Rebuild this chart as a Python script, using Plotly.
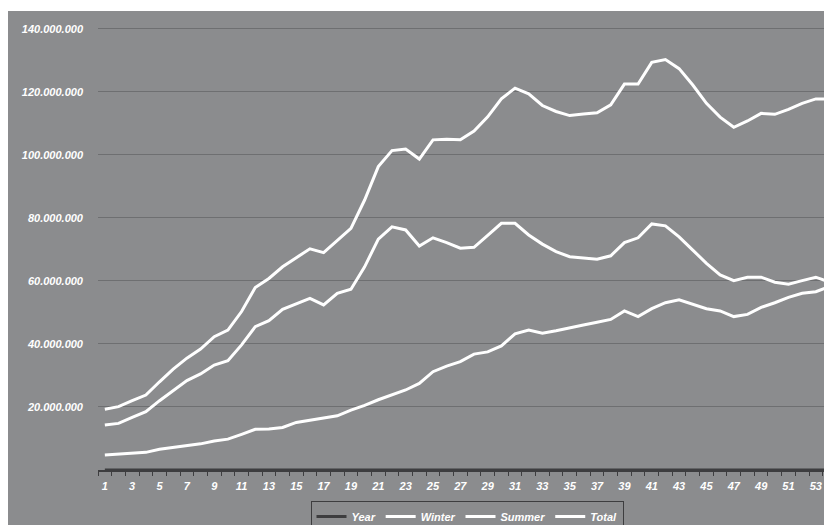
import plotly.graph_objects as go

years = list(range(1, 55))

winter = [14.3, 14.8, 16.7, 18.5, 22.0, 25.2, 28.4, 30.5, 33.3, 34.7,
          39.7, 45.5, 47.4, 51.0, 52.7, 54.5, 52.4, 56.1, 57.4, 64.5,
          73.3, 77.2, 76.2, 71.1, 73.7, 72.2, 70.4, 70.7, 74.5, 78.3,
          78.3, 74.6, 71.7, 69.3, 67.7, 67.2, 66.9, 68.0, 72.2, 73.7,
          78.1, 77.5, 74.0, 69.8, 65.6, 61.9, 60.1, 61.2, 61.2, 59.6,
          59.0, 60.1, 61.2, 59.6]
summer = [4.8, 5.1, 5.3, 5.6, 6.6, 7.2, 7.7, 8.3, 9.2, 9.8,
          11.3, 12.9, 13.0, 13.5, 15.1, 15.8, 16.5, 17.2, 19.0, 20.5,
          22.3, 23.9, 25.4, 27.5, 31.2, 33.0, 34.4, 36.8, 37.5, 39.4,
          43.2, 44.4, 43.4, 44.2, 45.2, 46.0, 46.9, 47.8, 50.5, 48.7,
          51.2, 53.1, 54.0, 52.7, 51.2, 50.5, 48.7, 49.4, 51.6, 53.1,
          54.8, 56.1, 56.6, 58.2]
total = [19.3, 20.1, 22.0, 23.8, 28.0, 32.0, 35.5, 38.4, 42.3, 44.4,
         50.3, 57.9, 60.8, 64.5, 67.4, 70.2, 69.0, 73.0, 76.7, 85.7,
         96.3, 101.4, 101.9, 98.7, 104.8, 105.0, 104.8, 107.6, 112.1, 117.8,
         121.2, 119.4, 115.7, 113.8, 112.5, 113.0, 113.4, 115.9, 122.5, 122.5,
         129.4, 130.3, 127.4, 122.2, 116.4, 112.0, 108.8, 110.8, 113.2, 112.9,
         114.5, 116.4, 117.8, 117.8]

scale = 1_000_000
y_ticks = [20, 40, 60, 80, 100, 120, 140]
x_ticks = list(range(1, 54, 2))

GRAY = "#8b8c8e"
GRID = "#6e6f71"
DARK = "#3d3d3f"
FONT = dict(family="Liberation Sans, Arial, sans-serif", size=11,
            color="white", weight="bold", style="italic")

fig = go.Figure()
fig.add_trace(go.Scatter(x=years, y=years, name="Year", mode="lines",
                         line=dict(color=DARK, width=3)))
fig.add_trace(go.Scatter(x=years, y=[v * scale for v in winter], name="Winter",
                         mode="lines", line=dict(color="white", width=3)))
fig.add_trace(go.Scatter(x=years, y=[v * scale for v in summer], name="Summer",
                         mode="lines", line=dict(color="white", width=3)))
fig.add_trace(go.Scatter(x=years, y=[v * scale for v in total], name="Total",
                         mode="lines", line=dict(color="white", width=3)))

W, H = 832, 525
L, R, T, B = 90, 3, 3, 63
pw, ph = W - L - R, H - T - B

fig.update_layout(
    width=W, height=H,
    margin=dict(l=L, r=R, t=T, b=B, pad=0, autoexpand=False),
    paper_bgcolor=GRAY,
    plot_bgcolor=GRAY,
    separators=",.",
    font=FONT,
    showlegend=True,
    legend=dict(orientation="h", xanchor="center", x=(459 - L) / pw,
                yanchor="top", y=-(493 - 462) / ph,
                bgcolor=GRAY, bordercolor=DARK, borderwidth=1,
                font=FONT, itemwidth=30, tracegroupgap=0),
    xaxis=dict(range=[0.5, 0.5 + pw / 13.673], tickmode="array",
               tickvals=x_ticks, ticktext=[str(v) for v in x_ticks],
               ticks="", showgrid=False, zeroline=False,
               showline=True, linecolor=DARK, linewidth=2,
               ticklabelstandoff=5,
               minor=dict(tick0=0.5, dtick=1, ticks="outside", ticklen=4,
                          tickcolor=DARK, tickwidth=1, showgrid=False),
               tickfont=FONT, fixedrange=True),
    yaxis=dict(range=[0, 145.7 * scale], tickmode="array",
               tickvals=[v * scale for v in y_ticks],
               tickformat=",d", showgrid=True, gridcolor=GRID, gridwidth=1.3,
               zeroline=False, showline=False, ticks="",
               ticklabelstandoff=14, tickfont=FONT, fixedrange=True),
    shapes=[
        dict(type="rect", xref="paper", yref="paper", layer="above",
             x0=-L / pw - 0.01, x1=1 + R / pw + 0.01, y0=1 + (T - 3) / ph,
             y1=1 + T / ph + 0.01, fillcolor="white", line=dict(width=0)),
    ],
)

fig.write_html("out.html")
